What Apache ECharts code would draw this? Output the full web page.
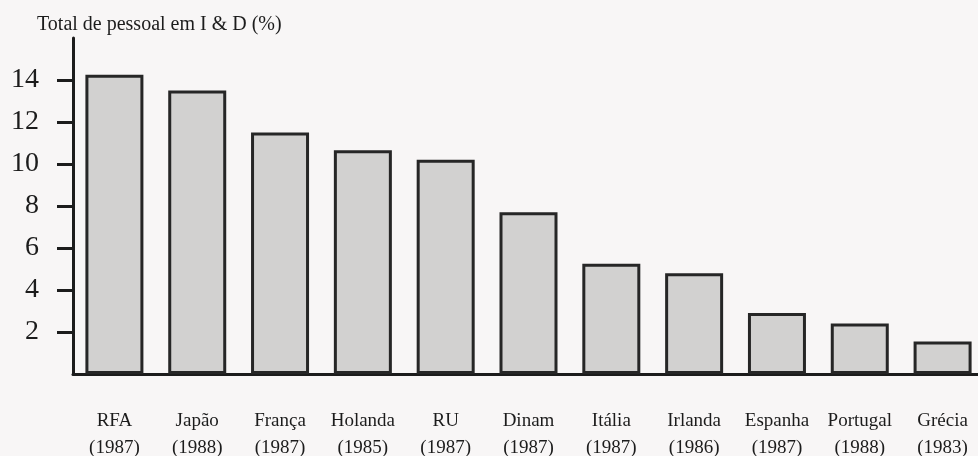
<!DOCTYPE html>
<html>
<head>
<meta charset="utf-8">
<script src="https://cdn.jsdelivr.net/npm/echarts@6/dist/echarts.min.js"></script>
<style>
  html, body { margin: 0; padding: 0; background: #f8f6f6; overflow: hidden; }
  #chart { width: 978px; height: 456px; }
</style>
</head>
<body>
<div id="chart"></div>
<script>
// Pessoal em I & D por país (ano de referência entre parênteses)
const countries = ['RFA', 'Japão', 'França', 'Holanda', 'RU', 'Dinam', 'Itália', 'Irlanda', 'Espanha', 'Portugal', 'Grécia'];
const years = ['(1987)', '(1988)', '(1987)', '(1985)', '(1987)', '(1987)', '(1987)', '(1986)', '(1987)', '(1988)', '(1983)'];
const shares = [14.25, 13.5, 11.5, 10.65, 10.2, 7.7, 5.25, 4.8, 2.9, 2.4, 1.55];
const yTicks = [2, 4, 6, 8, 10, 12, 14];

const serif = "'Liberation Serif', 'Times New Roman', 'DejaVu Serif', serif";
const ink = '#1c1c1c';

const chart = echarts.init(document.getElementById('chart'), null, { renderer: 'canvas' });
chart.setOption({
  backgroundColor: '#f8f6f6',
  animation: false,
  title: {
    text: 'Total de pessoal em I & D (%)',
    left: 32,
    top: 10,
    textStyle: { fontFamily: serif, fontSize: 20, fontWeight: 'normal', color: ink }
  },
  grid: { left: 73, right: -6, top: 38, bottom: 82, containLabel: false, outerBoundsMode: 'none' },
  xAxis: {
    type: 'category',
    data: countries,
    boundaryGap: true,
    axisLine: { show: true, lineStyle: { color: ink, width: 3 } },
    axisTick: { show: false },
    splitLine: { show: false },
    axisLabel: {
      interval: 0,
      margin: 34,
      fontFamily: serif,
      fontSize: 19,
      lineHeight: 27,
      color: ink,
      formatter: (v, i) => v + '\n' + years[i]
    }
  },
  yAxis: {
    type: 'value',
    min: 0,
    max: 16,
    interval: 2,
    axisLine: { show: true, lineStyle: { color: ink, width: 3 } },
    axisTick: { show: true, customValues: yTicks, length: 16, lineStyle: { color: ink, width: 3 } },
    splitLine: { show: false },
    axisLabel: {
      customValues: yTicks,
      margin: 34,
      fontFamily: serif,
      fontSize: 28,
      color: ink
    }
  },
  series: [{
    type: 'bar',
    data: shares,
    barWidth: 58,
    itemStyle: { color: '#d2d1d0', borderColor: '#262626', borderWidth: 3 },
    emphasis: { disabled: true }
  }]
});
</script>
</body>
</html>
